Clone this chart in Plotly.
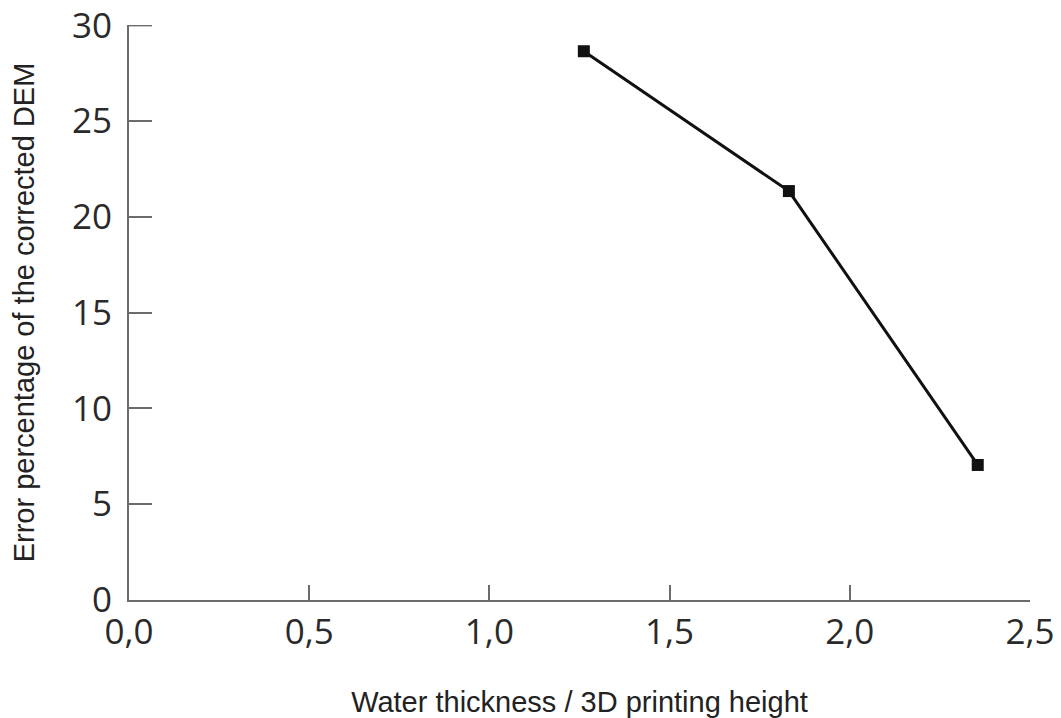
import plotly.graph_objects as go

x_ratio = [1.262, 1.831, 2.355]
error_pct = [28.65, 21.35, 7.05]
x_ticks = [0, 0.5, 1.0, 1.5, 2.0, 2.5]
x_ticklabels = ["0,0", "0,5", "1,0", "1,5", "2,0", "2,5"]
y_ticks = [0, 5, 10, 15, 20, 25, 30]
y_ticklabels = ["0", "5", "10", "15", "20", "25", "30"]

fig = go.Figure()
fig.add_trace(go.Scatter(
    x=x_ratio, y=error_pct, mode="lines+markers",
    line=dict(color="#111111", width=3),
    marker=dict(symbol="square", size=12, color="#111111"),
    showlegend=False, cliponaxis=False,
))

axis_common = dict(
    showgrid=False, zeroline=False, showline=True,
    linecolor="#6b6b6b", linewidth=2,
    ticks="inside", tickcolor="#6b6b6b", tickwidth=2,
    tickfont=dict(family="Open Sans", size=35, color="#2a2a2a"),
    ticklabeloverflow="allow",
)

fig.update_xaxes(
    range=[0, 2.5], tickvals=x_ticks, ticktext=x_ticklabels, ticklen=15,
    ticklabelstandoff=0,
    title=dict(text="Water thickness / 3D printing height",
               font=dict(family="Liberation Sans", size=29, color="#222222"),
               standoff=42),
    **axis_common,
)
fig.update_yaxes(
    range=[0, 30.02], tickvals=y_ticks, ticktext=y_ticklabels, ticklen=23,
    ticklabelstandoff=8,
    title=dict(text="Error percentage of the corrected DEM",
               font=dict(family="Liberation Sans", size=29, color="#222222"),
               standoff=32),
    **axis_common,
)

# make sure the top y tick (at 30) is visible, as in the reference
fig.add_shape(type="line", xref="x domain", yref="y",
              x0=0, x1=23 / 901, y0=y_ticks[-1], y1=y_ticks[-1],
              line=dict(color="#6b6b6b", width=2))

fig.update_layout(
    width=1053, height=710,
    margin=dict(l=121, r=31, t=17, b=118, autoexpand=False),
    plot_bgcolor="white", paper_bgcolor="white",
)

fig.write_html("out.html")
